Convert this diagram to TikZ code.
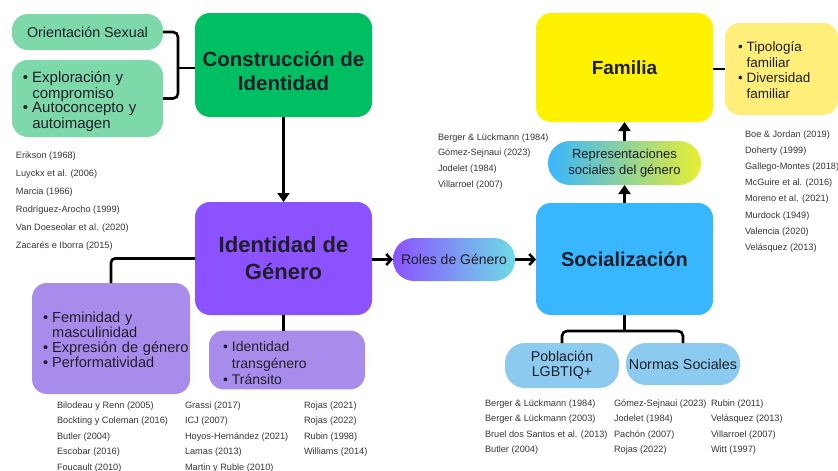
\documentclass[tikz,border=0pt]{standalone}
\usepackage{fontspec}
\setmainfont{Liberation Sans}
\usetikzlibrary{arrows.meta}
\definecolor{mint}{RGB}{126,217,170}
\definecolor{cgreen}{RGB}{0,191,99}
\definecolor{idpurple}{RGB}{140,82,255}
\definecolor{lav}{RGB}{168,140,236}
\definecolor{sblue}{RGB}{56,182,255}
\definecolor{lblue}{RGB}{140,202,240}
\definecolor{fyellow}{RGB}{255,242,0}
\definecolor{lyellow}{RGB}{255,239,122}
\definecolor{rcyan}{RGB}{110,220,230}
\definecolor{ryellow}{RGB}{232,238,50}
\definecolor{txt}{RGB}{30,30,40}
\definecolor{reftxt}{RGB}{55,55,55}
\newcommand{\blt}[1]{{\renewcommand{\arraystretch}{1}\begin{tabular}{@{}l@{\hspace{4pt}}l@{}}#1\end{tabular}}}
\begin{document}
\begin{tikzpicture}[x=1pt,y=-1pt,
  every node/.style={inner sep=0pt, outer sep=0pt},
  sz/.style 2 args={minimum width=#1pt, minimum height=#2pt},
  box/.style={rounded corners=15pt, align=center, text=txt},
  blist/.style={box, align=left},
  ref/.style={anchor=north west, align=left, text=reftxt},
  conn/.style={draw=black, line width=2.6pt},
  tri/.style={conn, -{Triangle[length=9pt,width=12pt]}},
  barb/.style={conn, -{Straight Barb[length=5pt,width=11pt]}},
]
\useasboundingbox (0,0) rectangle (838,471);
\fill[white] (0,0) rectangle (838,471);

% left top
\node[box, sz={151}{36}, fill=mint, rounded corners=16pt, font=\fontsize{14.3}{16}\selectfont] (orient) at (87.5,32) {Orientación Sexual};
\node[blist, fill=mint, rounded corners=16pt, minimum height=77pt, inner xsep=11pt, text width=129pt, font=\fontsize{15}{14.7}\selectfont] (explor) at (87.5,98.5) {\blt{\rule{0pt}{18.3pt}\textbullet & Exploración y\\ & compromiso\\ \textbullet & Autoconcepto y\\ & autoimagen}};
\node[box, sz={177}{104}, fill=cgreen, font=\fontsize{20.5}{24}\selectfont\bfseries] (constr) at (283.5,65) {\rule{0pt}{27pt}Construcción de\\Identidad};

% identity
\node[box, sz={177}{113}, fill=idpurple, font=\fontsize{22}{27}\selectfont\bfseries] (iden) at (283.5,258.5) {Identidad de\\Género};
\node[blist, fill=lav, minimum height=111pt, inner xsep=11pt, text width=136pt, font=\fontsize{14.6}{14.5}\selectfont] (femi) at (111,338.5) {\blt{\rule{0pt}{17.2pt}\textbullet & Feminidad y\\ & masculinidad\\ \textbullet & Expresión de género\\ \textbullet & Performatividad}};
\node[blist, fill=lav, minimum height=56pt, inner xsep=14pt, text width=128pt, font=\fontsize{14}{16.5}\selectfont] (trans) at (287,360) {\blt{\rule{0pt}{21pt}\textbullet & Identidad\\ & transgénero\\ \textbullet & Tránsito}};

% middle
\node[box, sz={122}{43}, rounded corners=21pt, left color=idpurple, right color=rcyan, font=\fontsize{14}{15}\selectfont] (roles) at (454,259.5) {Roles de Género};

% right
\node[box, sz={177}{112}, fill=sblue, font=\fontsize{20}{24}\selectfont\bfseries] (soc) at (624.5,259) {Socialización};
\node[box, sz={153}{44}, rounded corners=22pt, left color=sblue, right color=ryellow, font=\fontsize{13}{16}\selectfont] (rep) at (624.5,163) {Representaciones\\sociales del género};
\node[box, sz={177}{109}, fill=fyellow, font=\fontsize{19}{22}\selectfont\bfseries] (fam) at (624.5,67.5) {Familia};
\node[blist, fill=lyellow, minimum height=92pt, inner xsep=13pt, text width=87pt, font=\fontsize{13.5}{15.5}\selectfont] (tipo) at (781.5,69) {\blt{\rule{0pt}{17pt}\textbullet & Tipología\\ & familiar\\ \textbullet & Diversidad\\ & familiar}};
\node[box, sz={114}{45}, rounded corners=20pt, fill=lblue, font=\fontsize{14.2}{15}\selectfont] (pob) at (562,365.5) {Población\\LGBTIQ+};
\node[box, sz={114}{42}, rounded corners=20pt, fill=lblue, font=\fontsize{14.3}{16}\selectfont] (norm) at (683,364) {Normas Sociales};

% connectors
\coordinate (bt) at (178,68);
\draw[conn, rounded corners=5pt] (orient.east) -| (bt) |- (explor.east);
\draw[conn] (bt) -- (bt -| constr.west);
\draw[tri] (constr.south) -- (iden.north);
\draw[conn, rounded corners=4pt] (iden.west) -| (femi.north);
\draw[conn] (iden.south) -- (iden.south |- trans.north);
\draw[barb] (iden.east |- roles.west) -- (roles.west);
\draw[barb] (roles.east) -- (roles.east -| soc.west);
\draw[tri] (soc.north) -- (rep.south);
\draw[tri] (rep.north) -- (fam.south);
\draw[conn] (fam.east |- tipo.west) -- (tipo.west);
\coordinate (sb) at (624.5,331);
\draw[conn] (soc.south) -- (sb);
\draw[conn, rounded corners=5pt] (pob.north) |- (sb) -| (norm.north);

% references
\node[ref, font=\fontsize{9.2}{18}\selectfont] (rA) at (16,151.5) {Erikson (1968)\\Luyckx et al. (2006)\\Marcia (1966)\\Rodríguez-Arocho (1999)\\Van Doeseolar et al. (2020)\\Zacarés e Iborra (2015)};
\node[ref, font=\fontsize{9.2}{15.5}\selectfont] (rB) at (57,401.5) {Bilodeau y Renn (2005)\\Bockting y Coleman (2016)\\Butler (2004)\\Escobar (2016)\\Foucault (2010)};
\node[ref, font=\fontsize{9.2}{15.5}\selectfont] (rC) at (185,401.5) {Grassi (2017)\\ICJ (2007)\\Hoyos-Hernández (2021)\\Lamas (2013)\\Martin y Ruble (2010)};
\node[ref, font=\fontsize{9.2}{15.5}\selectfont] (rD) at (304,401.5) {Rojas (2021)\\Rojas (2022)\\Rubin (1998)\\Williams (2014)};
\node[ref, font=\fontsize{9.2}{15.8}\selectfont] (rE) at (438,133.5) {Berger \& Lückmann (1984)\\Gómez-Sejnaui (2023)\\Jodelet (1984)\\Villarroel (2007)};
\node[ref, font=\fontsize{9.2}{16.2}\selectfont] (rF) at (745,130.5) {Boe \& Jordan (2019)\\Doherty (1999)\\Gallego-Montes (2018)\\McGuire et al. (2016)\\Moreno et al. (2021)\\Murdock (1949)\\Valencia (2020)\\Velásquez (2013)};
\node[ref, font=\fontsize{9.2}{15.5}\selectfont] (rG) at (485,399.5) {Berger \& Lückmann (1984)\\Berger \& Lückmann (2003)\\Bruel dos Santos et al. (2013)\\Butler (2004)};
\node[ref, font=\fontsize{9.2}{15.5}\selectfont] (rH) at (614,399.5) {Gómez-Sejnaui (2023)\\Jodelet (1984)\\Pachón (2007)\\Rojas (2022)};
\node[ref, font=\fontsize{9.2}{15.5}\selectfont] (rI) at (711,399.5) {Rubin (2011)\\Velásquez (2013)\\Villarroel (2007)\\Witt (1997)};
\end{tikzpicture}
\end{document}
